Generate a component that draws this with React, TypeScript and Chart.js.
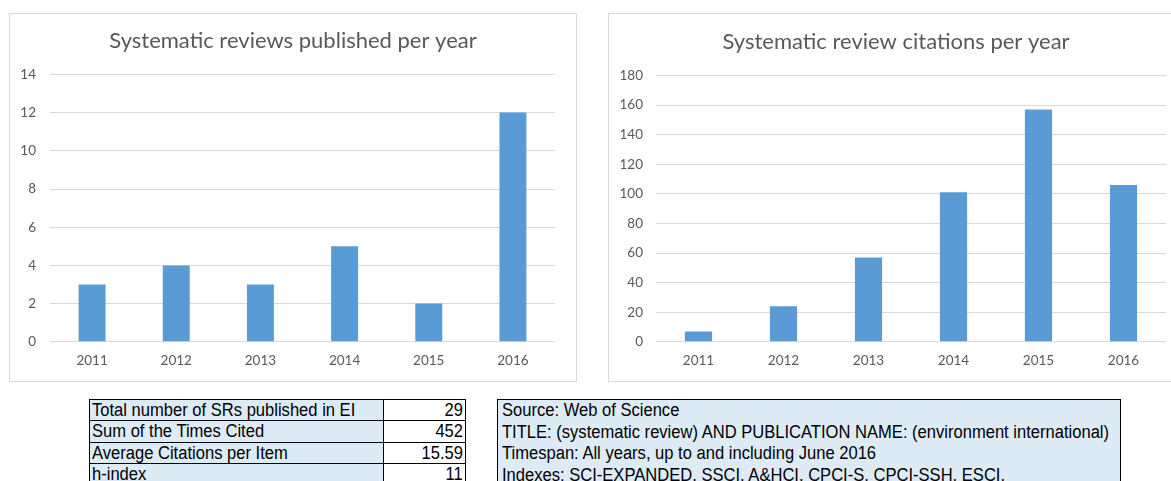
import React, { useEffect, useRef } from "react";
import { Chart, registerables } from "chart.js";

Chart.register(...registerables);

const years = ["2011", "2012", "2013", "2014", "2015", "2016"];
const reviewsPublished = [3, 4, 3, 5, 2, 12];
const reviewCitations = [7, 24, 57, 101, 157, 106];

const leftTitle = "Systematic reviews published per year";
const rightTitle = "Systematic review citations per year";

const statLabels = [
  "Total number of SRs published in EI",
  "Sum of the Times Cited",
  "Average Citations per Item",
  "h-index",
];
const statValues = ["29", "452", "15.59", "11"];

const sourceLines = [
  "Source: Web of Science",
  "TITLE: (systematic review) AND PUBLICATION NAME: (environment international)",
  "Timespan: All years, up to and including June 2016",
  "Indexes: SCI-EXPANDED, SSCI, A&HCI, CPCI-S, CPCI-SSH, ESCI.",
];

const BAR = "#5B9BD5";
const GRID = "#D9D9D9";
const TEXT = "#595959";
const FONT = "Lato, 'Open Sans', sans-serif";

type ChartSpec = {
  title: string;
  values: number[];
  max: number;
  step: number;
  yWidth: number;
  tickPad: number;
  rightGap: number;
  titleTop: number;
  titleBottom: number;
};

function BarPanel(props: ChartSpec & { left: number; width: number }) {
  const ref = useRef<HTMLCanvasElement | null>(null);
  useEffect(() => {
    if (!ref.current) return;
    const chart = new Chart(ref.current, {
      type: "bar",
      data: {
        labels: years,
        datasets: [
          {
            data: props.values,
            backgroundColor: BAR,
            borderWidth: 0,
            categoryPercentage: 1,
            barPercentage: 0.32,
          },
        ],
      },
      options: {
        animation: false,
        responsive: false,
        maintainAspectRatio: false,
        layout: { padding: { left: 0, right: 0, top: 0, bottom: 1 } },
        plugins: {
          legend: { display: false },
          tooltip: { enabled: false },
          title: {
            display: true,
            text: props.title,
            color: TEXT,
            font: { family: FONT, size: 22, weight: "normal" },
            padding: { top: props.titleTop, bottom: props.titleBottom },
          },
        },
        scales: {
          x: {
            grid: { display: false, drawTicks: false },
            border: { display: false },
            ticks: { color: TEXT, font: { family: FONT, size: 13.5 }, padding: 11 },
          },
          y: {
            min: 0,
            max: props.max,
            grid: { color: GRID, lineWidth: 1, drawTicks: false },
            border: { display: false },
            ticks: {
              stepSize: props.step,
              color: TEXT,
              font: { family: FONT, size: 13.5 },
              padding: props.tickPad,
            },
            afterFit: (scale: any) => {
              scale.width = props.yWidth;
            },
          },
          spacer: {
            type: "linear",
            position: "right",
            display: true,
            grid: { display: false, drawTicks: false },
            border: { display: false },
            ticks: { display: false },
            afterFit: (scale: any) => {
              scale.width = props.rightGap;
            },
          },
        },
      },
    });
    return () => chart.destroy();
  }, []);
  return (
    <div
      style={{
        position: "absolute",
        left: props.left,
        top: 13,
        width: props.width,
        height: 369,
        border: "1px solid " + GRID,
        boxSizing: "border-box",
        background: "#fff",
      }}
    >
      <canvas ref={ref} width={props.width - 2} height={367} style={{ display: "block" }} />
    </div>
  );
}

const cellText: React.CSSProperties = {
  fontFamily: "'Liberation Sans', Arial, sans-serif",
  fontSize: 18,
  display: "inline-block",
  whiteSpace: "nowrap",
  transform: "scaleX(0.92)",
};

const cellBase: React.CSSProperties = {
  position: "absolute",
  border: "1px solid #000",
  boxSizing: "border-box",
  lineHeight: "20px",
  overflow: "hidden",
  color: "#000",
};

const ROW_TOPS = [399, 420, 442, 463];

export default function App() {
  return (
    <div
      style={{
        position: "absolute",
        left: 0,
        top: 0,
        width: 1171,
        height: 481,
        overflow: "hidden",
        background: "#fff",
      }}
    >
      <BarPanel
        left={9}
        width={568}
        title={leftTitle}
        values={reviewsPublished}
        max={14}
        step={2}
        yWidth={40}
        tickPad={14}
        rightGap={21}
        titleTop={14}
        titleBottom={20}
      />
      <BarPanel
        left={608}
        width={576}
        title={rightTitle}
        values={reviewCitations}
        max={180}
        step={20}
        yWidth={47}
        tickPad={13}
        rightGap={17}
        titleTop={15}
        titleBottom={20}
      />
      {statLabels.map((label, i) => (
        <React.Fragment key={label}>
          <div
            style={{
              ...cellBase,
              left: 89,
              top: ROW_TOPS[i],
              width: 295,
              height: 23,
              background: "#DDEBF7",
              paddingLeft: 2,
            }}
          >
            <span style={{ ...cellText, transformOrigin: "left center" }}>{label}</span>
          </div>
          <div
            style={{
              ...cellBase,
              left: 383,
              top: ROW_TOPS[i],
              width: 83,
              height: 23,
              background: "#fff",
              paddingRight: 2,
              textAlign: "right",
            }}
          >
            <span style={{ ...cellText, transformOrigin: "right center" }}>{statValues[i]}</span>
          </div>
        </React.Fragment>
      ))}
      <div
        style={{
          position: "absolute",
          left: 497,
          top: 399,
          width: 624,
          height: 120,
          border: "1px solid #000",
          boxSizing: "border-box",
          background: "#DDEBF7",
          padding: "0 0 0 4px",
          color: "#000",
        }}
      >
        {sourceLines.map((line) => (
          <div key={line} style={{ height: 21.5, lineHeight: "21.5px" }}>
            <span style={{ ...cellText, transformOrigin: "left center" }}>{line}</span>
          </div>
        ))}
      </div>
    </div>
  );
}
